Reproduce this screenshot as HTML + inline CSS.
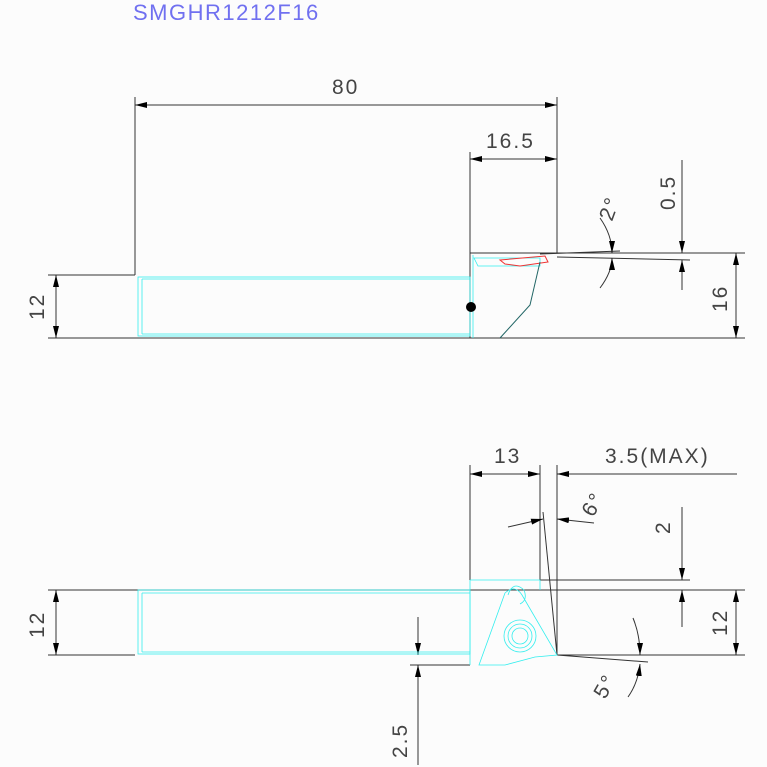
<!DOCTYPE html>
<html><head><meta charset="utf-8"><style>
html,body{margin:0;padding:0;background:#fcfcfc;}
svg{display:block}
text{font-family:"Liberation Sans",sans-serif;font-size:21px;fill:#444;letter-spacing:2px;}
</style></head><body>
<svg width="767" height="767" viewBox="0 0 767 767" xmlns="http://www.w3.org/2000/svg">
<defs>
<marker id="a" viewBox="0 0 12 6" refX="12" refY="3" markerWidth="12" markerHeight="6" orient="auto-start-reverse" markerUnits="userSpaceOnUse"><path d="M0,0L12,3L0,6z" fill="#000"/></marker>
</defs>
<text x="133" y="20" style="fill:#7070f0;font-size:22px;letter-spacing:1.5px">SMGHR1212F16</text>
<g stroke="#333" stroke-width="1" fill="none">
<line x1="135" y1="97" x2="135" y2="275"/>
<line x1="557" y1="97" x2="557" y2="253"/>
<line x1="135" y1="105" x2="557" y2="105" marker-start="url(#a)" marker-end="url(#a)"/>
<line x1="470" y1="152" x2="470" y2="338"/>
<line x1="470" y1="159" x2="557" y2="159" marker-start="url(#a)" marker-end="url(#a)"/>
<line x1="48" y1="275" x2="135" y2="275"/>
<line x1="48" y1="338" x2="745" y2="338"/>
<line x1="56" y1="275" x2="56" y2="338" marker-start="url(#a)" marker-end="url(#a)"/>
<line x1="557" y1="253" x2="745" y2="253"/>
<line x1="557" y1="257" x2="690" y2="260"/>
<line x1="540" y1="254" x2="620" y2="251"/>
<line x1="682" y1="160" x2="682" y2="253" marker-end="url(#a)"/>
<line x1="682" y1="290" x2="682" y2="260" marker-end="url(#a)"/>
<line x1="736" y1="253" x2="736" y2="338" marker-start="url(#a)" marker-end="url(#a)"/>
<path d="M600,218 Q612,235 612,253" marker-end="url(#a)"/>
<path d="M600,288 Q612,272 612,258" marker-end="url(#a)"/>
<line x1="470" y1="253" x2="557" y2="253"/>
<line x1="470" y1="465" x2="470" y2="580"/>
<line x1="540" y1="465" x2="540" y2="580"/>
<line x1="557" y1="465" x2="557" y2="655"/>
<line x1="470" y1="474" x2="540" y2="474" marker-start="url(#a)" marker-end="url(#a)"/>
<line x1="737" y1="474" x2="557" y2="474" marker-end="url(#a)"/>
<line x1="543" y1="512" x2="557" y2="655"/>
<line x1="508" y1="527" x2="543" y2="519" marker-end="url(#a)"/>
<line x1="594" y1="523" x2="557" y2="519" marker-end="url(#a)"/>
<line x1="540" y1="580" x2="690" y2="580"/>
<line x1="48" y1="590" x2="745" y2="590"/>
<line x1="48" y1="655" x2="135" y2="655"/>
<line x1="557" y1="655" x2="745" y2="655"/>
<line x1="557" y1="655" x2="648" y2="662"/>
<line x1="410" y1="665" x2="470" y2="665"/>
<line x1="682" y1="507" x2="682" y2="580" marker-end="url(#a)"/>
<line x1="682" y1="627" x2="682" y2="590" marker-end="url(#a)"/>
<line x1="736" y1="590" x2="736" y2="655" marker-start="url(#a)" marker-end="url(#a)"/>
<line x1="56" y1="590" x2="56" y2="655" marker-start="url(#a)" marker-end="url(#a)"/>
<line x1="418" y1="617" x2="418" y2="655" marker-end="url(#a)"/>
<line x1="418" y1="765" x2="418" y2="665" marker-end="url(#a)"/>
<path d="M633,618 Q640,635 640,655" marker-end="url(#a)"/>
<path d="M628,697 Q638,683 640,664" marker-end="url(#a)"/>
</g>
<g stroke="#3ee" stroke-width="0.8" fill="none">
<rect x="138" y="277" width="332" height="59"/>
<line x1="142" y1="279" x2="470" y2="279"/>
<line x1="142" y1="334" x2="470" y2="334"/>
<line x1="142" y1="279" x2="142" y2="334"/>
<line x1="473" y1="255" x2="473" y2="338"/>
<rect x="138" y="590" width="332" height="64"/>
<line x1="142" y1="593" x2="470" y2="593"/>
<line x1="142" y1="652" x2="470" y2="652"/>
<line x1="142" y1="593" x2="142" y2="652"/>
<path d="M470,580 H540 V590 M470,580 V665"/>
<path d="M479,665 L505,593 Q515,584 522,595 L557,655 L535,657 L505,665 Z"/>
<path d="M508,595 Q513,580 524,590 Q528,600 520,604"/>
<circle cx="520" cy="636" r="16"/><circle cx="520" cy="636" r="12"/><circle cx="520" cy="636" r="8"/>
<path d="M474,258 H540 V266 H478 Z"/>
</g>
<g stroke="#e33" stroke-width="1" fill="none"><path d="M500,260 L545,256 L548,262 L520,266 L505,264 Z"/></g>
<g stroke="#266" stroke-width="1" fill="none"><path d="M540,262 L530,305 L500,338"/></g>
<circle cx="471" cy="307" r="5" fill="#000"/>
<text x="332" y="94">80</text>
<text x="486" y="148">16.5</text>
<text x="494" y="463">13</text>
<text x="605" y="463">3.5(MAX)</text>
<text transform="translate(44,320) rotate(-90)">12</text>
<text transform="translate(44,638) rotate(-90)">12</text>
<text transform="translate(675,210) rotate(-90)">0.5</text>
<text transform="translate(727,312) rotate(-90)">16</text>
<text transform="translate(727,636) rotate(-90)">12</text>
<text transform="translate(670,534) rotate(-90)">2</text>
<text transform="translate(407,758) rotate(-90)">2.5</text>
<text transform="translate(612,222) rotate(-70)">2°</text>
<text transform="translate(593,518) rotate(-60)">6°</text>
<text transform="translate(605,700) rotate(-60)">5°</text>
</svg>
</body></html>
